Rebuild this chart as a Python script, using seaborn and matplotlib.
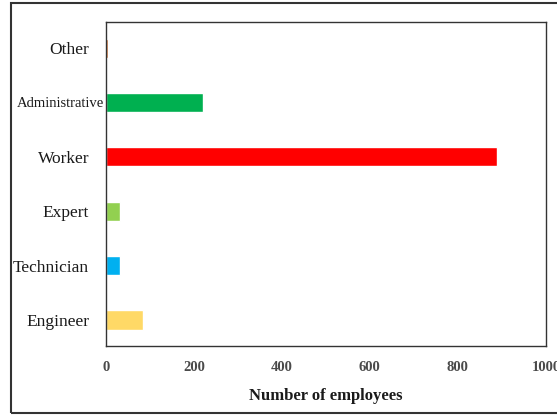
import matplotlib
matplotlib.use("Agg")
import matplotlib.pyplot as plt
import matplotlib.transforms as mtransforms
import seaborn as sns
import pandas as pd
from matplotlib.patches import Rectangle

# data
categories = ["Other", "Administrative", "Worker", "Expert", "Technician", "Engineer"]
employees = [5, 220, 890, 33, 33, 84]
colors = ["#C55A11", "#00B050", "#FF0000", "#92D050", "#00B0F0", "#FFD966"]

df = pd.DataFrame({"Category": categories, "Employees": employees})

sns.set_style("white")
plt.rcParams["font.family"] = ["Liberation Serif", "DejaVu Serif"]

fig = plt.figure(figsize=(5.57, 4.15), dpi=100)
ax = fig.add_axes([0.190, 0.166, 0.790, 0.781])

sns.barplot(data=df, x="Employees", y="Category", hue="Category",
            palette=colors, legend=False, width=0.35, ax=ax, saturation=1)

ax.set_xlim(0, 1000)
ax.set_ylim(5.48, -0.48)
ax.set_xticks([0, 200, 400, 600, 800, 1000])
ax.tick_params(axis="both", length=0)
ax.tick_params(axis="x", labelsize=10.5, labelcolor="#4a4a4a", pad=11)
for lbl in ax.get_xticklabels():
    lbl.set_fontweight("bold")
ax.tick_params(axis="y", labelsize=12.5, labelcolor="#1a1a1a", pad=12)
for lbl in ax.get_yticklabels():
    if lbl.get_text() == "Administrative":
        lbl.set_fontsize(10.5)
        # this label sits right against the axis in the original
        shift = mtransforms.ScaledTranslation(10.5 / 72, 0, fig.dpi_scale_trans)
        lbl.set_transform(lbl.get_transform() + shift)

ax.set_xlabel("Number of employees", fontsize=12, fontweight="bold", labelpad=10, color="#1a1a1a")
ax.set_ylabel("")
for s in ax.spines.values():
    s.set_visible(True)
    s.set_color("#333333")
    s.set_linewidth(1.0)

# outer frame around the chart
fig.patches.append(Rectangle((0.020, 0.005), 1.2, 0.988, transform=fig.transFigure,
                             fill=False, edgecolor="#333333", linewidth=1.5))

fig.savefig("out.png", dpi=100)
